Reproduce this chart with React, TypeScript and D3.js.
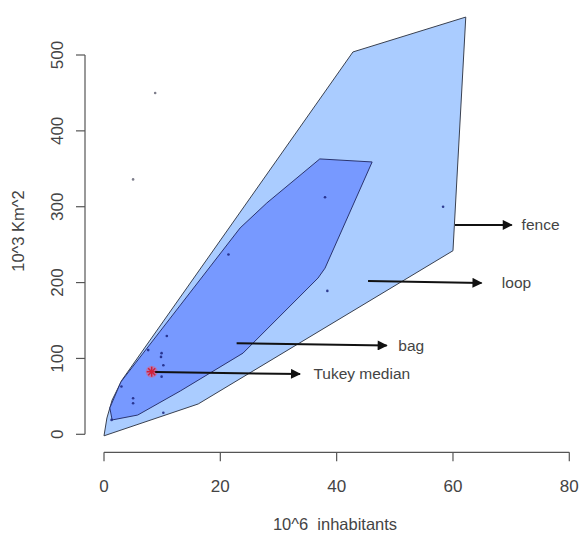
import React from "react";
import * as d3 from "d3";

// Fence (loop hull) polygon vertices: [10^6 inhabitants, 10^3 Km^2]
const fenceX = [0, 16.2, 60, 62.2, 42.8, 3.1, 1.4, 0.5];
const fenceY = [-2, 40, 242, 550, 504, 71.6, 45.2, 21.5];

// Bag polygon vertices
const bagX = [37.1, 46.1, 38.0, 36.8, 23.9, 13.1, 5.8, 1.4, 1.0, 2.9, 23.4, 28.0];
const bagY = [363, 359, 219, 206, 107, 57, 25.4, 18.9, 34.7, 69, 272, 305];

// Observations
const ptX = [8.8, 5.0, 38.0, 58.3, 38.4, 21.4, 10.8, 7.6, 9.9, 9.8, 10.2, 9.9, 3.0, 5.0, 5.0, 1.3, 10.2];
const ptY = [450, 336, 312.5, 300, 189, 237, 129.6, 111, 107, 102, 91, 76, 63, 47.5, 41, 19, 28.5];

// Tukey median
const medianX = 8.2;
const medianY = 82.5;

// Annotation arrows
const arrowLabels = ["fence", "loop", "bag", "Tukey median"];
const arrowX0 = [60.35, 45.4, 22.8, 8.8];
const arrowY0 = [276, 202, 120, 82];
const arrowX1 = [70.1, 64.9, 48.6, 33.7];
const arrowY1 = [276, 199.5, 117, 79.5];
const labelX = [71.8, 68.4, 50.6, 36.0];

const xTicks = [0, 20, 40, 60, 80];
const yTicks = [0, 100, 200, 300, 400, 500];

export default function App() {
  const W = 579, H = 535;
  const x = d3.scaleLinear().domain([0, 80]).range([104, 569.3]);
  const y = d3.scaleLinear().domain([0, 500]).range([434.3, 55]);
  const line = d3.line<[number, number]>().x(d => x(d[0])).y(d => y(d[1]));
  const fence = fenceX.map((v, i) => [v, fenceY[i]] as [number, number]);
  const bag = bagX.map((v, i) => [v, bagY[i]] as [number, number]);
  const axisColor = "#555";
  const textColor = "#444";
  const font = "Liberation Sans, Arial, sans-serif";
  const yAxisX = 85;
  const xAxisY = 452.3;
  const tick = 9;

  return (
    <svg width={W} height={H} style={{ position: "absolute", left: 0, top: 0, background: "#fff" }} fontFamily={font}>
      <defs>
        <marker id="ah" viewBox="0 0 10 10" refX="9" refY="5" markerWidth="5.5" markerHeight="5" orient="auto" markerUnits="strokeWidth">
          <path d="M0,0 L10,5 L0,10 z" fill="#111" />
        </marker>
      </defs>
      <path d={line(fence) + "Z"} fill="#aaccff" stroke="#3a4150" strokeWidth={1} />
      <path d={line(bag) + "Z"} fill="#7799ff" stroke="#2a3470" strokeWidth={1} />
      {ptX.map((v, i) => (
        <circle key={i} cx={x(v)} cy={y(ptY[i])} r={1.3} fill={i < 2 ? "#667" : "#1a237e"} opacity={0.85} />
      ))}
      {/* Tukey median */}
      <g transform={`translate(${x(medianX)},${y(medianY)})`}>
        <circle r={6} fill="#e06080" opacity={0.55} />
        {[0, 45, 90, 135].map(a => (
          <line key={a} x1={-5} y1={0} x2={5} y2={0} stroke="#d0203a" strokeWidth={1.5} transform={`rotate(${a})`} />
        ))}
      </g>
      {arrowLabels.map((lab, i) => (
        <g key={lab}>
          <line x1={x(arrowX0[i])} y1={y(arrowY0[i])} x2={x(arrowX1[i])} y2={y(arrowY1[i])}
            stroke="#111" strokeWidth={2} markerEnd="url(#ah)" />
          <text x={x(labelX[i])} y={y(arrowY1[i])} dominantBaseline="central" fontSize={15.5} fill={textColor}>{lab}</text>
        </g>
      ))}
      {/* Y axis */}
      <line x1={yAxisX} y1={y(0)} x2={yAxisX} y2={y(500)} stroke={axisColor} strokeWidth={1.2} />
      {yTicks.map(t => (
        <g key={t}>
          <line x1={yAxisX - tick} y1={y(t)} x2={yAxisX} y2={y(t)} stroke={axisColor} strokeWidth={1.2} />
          <text transform={`translate(57,${y(t)}) rotate(-90)`} textAnchor="middle" dominantBaseline="central" fontSize={17} fill={textColor}>{t}</text>
        </g>
      ))}
      {/* X axis */}
      <line x1={x(0)} y1={xAxisY} x2={x(80)} y2={xAxisY} stroke={axisColor} strokeWidth={1.2} />
      {xTicks.map(t => (
        <g key={t}>
          <line x1={x(t)} y1={xAxisY} x2={x(t)} y2={xAxisY + tick} stroke={axisColor} strokeWidth={1.2} />
          <text x={x(t)} y={486.7} textAnchor="middle" dominantBaseline="central" fontSize={17} fill={textColor}>{t}</text>
        </g>
      ))}
      <text x={335} y={524} textAnchor="middle" dominantBaseline="central" fontSize={16.5} fill={textColor} style={{ whiteSpace: "pre" }}>{"10^6  inhabitants"}</text>
      <text transform="translate(18,231) rotate(-90)" textAnchor="middle" dominantBaseline="central" fontSize={16.5} fill={textColor}>10^3 Km^2</text>
    </svg>
  );
}
